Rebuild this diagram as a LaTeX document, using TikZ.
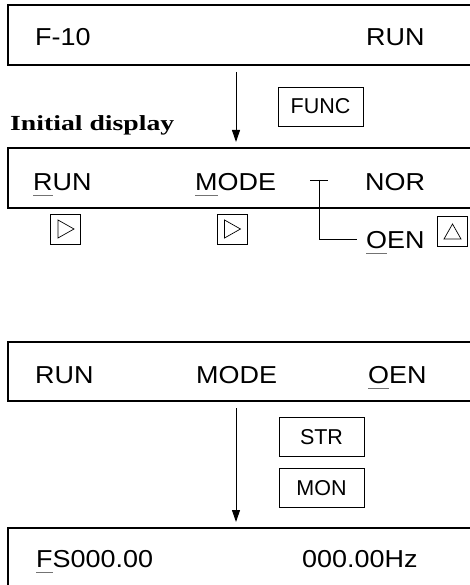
\documentclass[tikz,border=0pt]{standalone}
\usepackage{fontspec}
\setmainfont{Liberation Sans}[FakeStretch=1.1]
\newfontfamily\keyfont{Liberation Sans}
\newfontfamily\headfont{Liberation Serif}[FakeStretch=1.29]
\usetikzlibrary{arrows.meta}
\definecolor{ulgray}{gray}{0.45}
\newcommand\ulc[1]{\setbox0\hbox{#1}\rlap{\color{ulgray}\rule[-6pt]{\wd0}{1.4pt}}#1}
\begin{document}
\begin{tikzpicture}[x=1pt,y=-1pt,
  disp/.style={draw, line width=1.2pt, rectangle, minimum width=490pt, anchor=north west, inner sep=0pt, outer sep=0pt},
  txt/.style={anchor=base west, inner sep=0pt, font=\fontsize{24.5}{28}\selectfont},
  keybox/.style={draw, line width=0.8pt, minimum width=85pt, minimum height=39pt, inner sep=0pt, font=\keyfont\fontsize{21.5}{24}\selectfont},
  tribox/.style={draw, line width=0.8pt, minimum width=30pt, minimum height=30pt, inner sep=0pt},
  rtri/.style={tribox, path picture={\draw[line width=0.7pt] ([xshift=-7.5pt,yshift=9pt]path picture bounding box.center) -- ++(16pt,-9pt) -- ++(-16pt,-9pt) -- cycle;}},
  utri/.style={tribox, path picture={\draw[line width=0.7pt] ([xshift=-8pt,yshift=-7.5pt]path picture bounding box.center) -- ++(17pt,0pt) -- ++(-8.5pt,15pt) -- cycle;}},
  arr/.style={line width=1pt, -{Triangle[length=12pt,width=8pt]}, shorten <=7pt, shorten >=6pt},
  brk/.style={line width=0.9pt}
]
\clip (0,0) rectangle (470,585);

% display boxes (open to the right)
\node[disp, minimum height=60pt] (b1) at (8,5) {};
\node[disp, minimum height=60pt] (b2) at (8,148) {};
\node[disp, minimum height=59pt] (b3) at (8,342) {};
\node[disp, minimum height=80pt] (b4) at (8,528) {};

% box 1
\node[txt] (f10) at (35,46) {F-10};
\node[txt] (run1) at (366,46) {RUN};

% heading
\node[anchor=base west, inner sep=0pt, font=\headfont\bfseries\fontsize{21.5}{24}\selectfont] (init) at (10,131) {Initial display};

% box 2
\node[txt] (run2) at (33,190) {\ulc{R}UN};
\node[txt] (mode2) at (195,190) {\ulc{M}ODE};
\node[txt] (nor2) at (365,190) {NOR};
\node[txt] (oen2) at (366,248) {\ulc{O}EN};

% box 3
\node[txt] (run3) at (35,383) {RUN};
\node[txt] (mode3) at (196,383) {MODE};
\node[txt] (oen3) at (368,383) {\ulc{O}EN};

% box 4
\node[txt] (fs) at (36,567) {\ulc{F}S000.00};
\node[txt] (hz) at (302,567) {000.00Hz};

% key boxes
\node[keybox] (func) at (320.5,106.5) {FUNC};
\node[keybox] (str) at (321.5,437) {STR};
\node[keybox] (mon) at (321.5,488) {MON};

% triangle keys
\node[rtri] (k1) at (65.5,229) {};
\node[rtri] (k2) at (232,229) {};
\node[utri] (k3) at (452,231.5) {};

% arrows
\coordinate (ax) at (236,0);
\draw[arr] (b1.south -| ax) -- (b2.north -| ax);
\draw[arr] (b3.south -| ax) -- (b4.north -| ax);

% bracket NOR / OEN
\coordinate (tl) at (310,180);
\coordinate (tr) at (328,180);
\coordinate (tm) at (319,180);
\draw[brk] (tl) -- (tr);
\draw[brk] (tm) |- ([xshift=-9pt,yshift=9pt]oen2.base west);
\end{tikzpicture}
\end{document}
